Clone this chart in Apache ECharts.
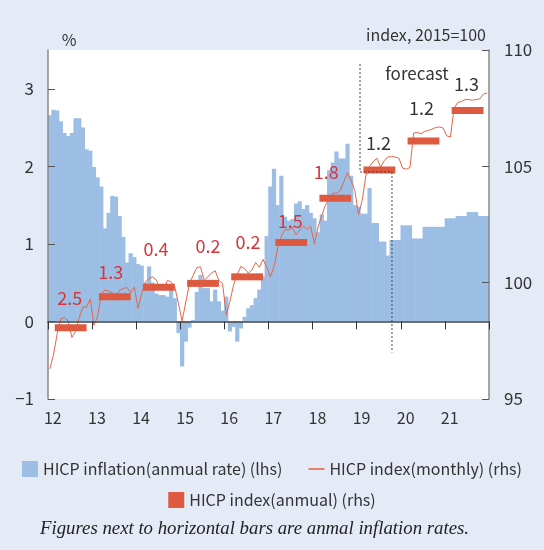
<!DOCTYPE html>
<html>
<head>
<meta charset="utf-8">
<script src="https://cdn.jsdelivr.net/npm/echarts@6/dist/echarts.min.js"></script>
<style>
  html, body { margin: 0; padding: 0; background: #e5ebf6; }
  #main { width: 544px; height: 550px; }
</style>
</head>
<body>
<div id="main"></div>
<script>
var FONT = '"Noto Sans CJK KR", "Noto Sans", sans-serif';

// years on the axis, one category per month
var years = ['12', '13', '14', '15', '16', '17', '18', '19', '20', '21'];

// HICP inflation, annual rate, monthly (lhs, %)
var inflation = [
    2.66, 2.73, 2.72, 2.58, 2.43, 2.39, 2.43, 2.62, 2.62, 2.5, 2.22, 2.2,
    1.99, 1.86, 1.74, 1.2, 1.4, 1.62, 1.61, 1.36, 1.09, 0.76, 0.88, 0.83,
    0.74, 0.72, 0.5, 0.71, 0.5, 0.36, 0.34, 0.34, 0.32, 0.41, 0.3, -0.15,
    -0.58, -0.26, -0.08, 0.02, 0.38, 0.6, 0.43, 0.43, 0.26, 0.41, 0.26, 0.14,
    0.32, -0.13, -0.07, -0.26, -0.09, 0.06, 0.17, 0.21, 0.3, 0.41, 0.58, 1.1,
    1.74, 1.97, 1.5, 1.88, 1.35, 1.3, 1.32, 1.52, 1.55, 1.45, 1.5, 1.4,
    1.33, 1.15, 1.38, 1.3, 1.95, 2.05, 2.19, 2.1, 2.1, 2.29, 1.88, 1.5,
    1.48, 1.39, 1.39, 1.72, 1.27, 1.27, 1.03, 1.03, 0.85, 1.05, 1.05, 1.05,
    1.24, 1.24, 1.24, 1.07, 1.07, 1.07, 1.22, 1.22, 1.22, 1.22, 1.22, 1.22,
    1.33, 1.33, 1.33, 1.36, 1.36, 1.36, 1.41, 1.41, 1.41, 1.36, 1.36, 1.36
];

// HICP index, monthly (rhs, 2015=100)
var indexMonthly = [
    96.3, 96.9, 97.8, 98.45, 98.5, 98.35, 97.65, 97.9, 98.5, 98.95, 98.95, 99.3,
    98.17, 98.53, 99.53, 99.68, 99.63, 99.56, 99.46, 99.68, 99.75, 99.79, 99.56, 99.82,
    98.89, 99.53, 100.03, 100.18, 100.25, 100.1, 99.75, 99.7, 100.1, 100.03, 99.82, 99.1,
    98.35, 99.17, 99.97, 100.32, 100.65, 100.68, 100.1, 100.25, 100.42, 100.51, 100.1, 99.97,
    98.6, 99.2, 99.9, 100.35, 100.7, 100.6, 100.41, 100.54, 100.87, 100.66, 101.0, 100.68,
    100.25, 100.68, 101.47, 102.0, 102.29, 102.26, 102.38, 102.05, 102.26, 102.43, 102.29, 102.41,
    101.65, 102.4, 102.9, 103.34, 103.6, 103.85, 103.85, 103.95, 104.34, 104.72, 104.38, 103.95,
    102.93, 103.55, 104.6, 105.0, 105.2, 105.35, 104.97, 105.25, 105.4, 105.42, 105.4, 105.35,
    104.92, 104.88, 104.95, 106.43, 106.46, 106.4, 106.5, 106.54, 106.6, 106.67, 106.69, 106.65,
    106.31, 106.26, 107.5, 107.75, 107.78, 107.87, 107.87, 107.84, 107.87, 107.9, 108.11, 108.15
];

// HICP index, annual (rhs) and annual inflation written next to the bars
var indexAnnual = [98.06, 99.4, 99.8, 99.97, 100.25, 101.73, 103.63, 104.84, 106.09, 107.4];
var annualRates = ['2.5', '1.3', '0.4', '0.2', '0.2', '1.5', '1.8', '1.2', '1.2', '1.3'];
var firstForecastYear = 7;

// forecast divider, in (month, index) units
var forecastMarker = [[84.9, 109.4], [84.9, 104.76], [93.6, 104.76], [93.6, 97.0]];

// layout of the annual labels relative to the bar centre (px)
var labelOffsets = [[-1, -30], [-4, -24], [-3, -38], [5, -37], [1, -35],
                    [-1, -21], [-9, -26], [-1, -27], [-2, -33], [-1, -26]];
var barStart = 1.85, barEnd = 10.5;

var months = [];
years.forEach(function (y) {
    for (var m = 1; m <= 12; m++) months.push(y + '/' + m);
});

var BLUE = '#9dbee4', RED = '#dd5a41', LINE = '#e2674a', LABEL_RED = '#d5343b';

function renderAnnual(params, api) {
    var i = api.value(0), v = api.value(1);
    var a = api.coord([i * 12 + barStart, v]);
    var b = api.coord([i * 12 + barEnd, v]);
    var off = labelOffsets[i];
    return {
        type: 'group',
        children: [{
            type: 'rect',
            shape: { x: a[0], y: a[1] - 3.5, width: b[0] - a[0], height: 7 },
            style: { fill: RED }
        }, {
            type: 'text',
            style: {
                text: annualRates[i],
                x: (a[0] + b[0]) / 2 + off[0],
                y: a[1] + off[1],
                align: 'center',
                verticalAlign: 'middle',
                fill: i >= firstForecastYear ? '#333' : LABEL_RED,
                fontSize: 18,
                fontFamily: FONT
            }
        }]
    };
}

var chart = echarts.init(document.getElementById('main'));
var option = {
    backgroundColor: '#e5ebf6',
    textStyle: { fontFamily: FONT },
    grid: {
        left: 48, right: 55, top: 50, bottom: 151,
        show: true, backgroundColor: '#fff', borderWidth: 0
    },
    legend: [{
        top: 456, left: 'center',
        itemWidth: 16, itemHeight: 16, itemGap: 26,
        textStyle: { fontSize: 16, color: '#333', fontFamily: FONT },
        data: [
            { name: 'HICP inflation(anmual rate) (lhs)', icon: 'rect' },
            { name: 'HICP index(monthly) (rhs)', icon: 'path://M0,0h12v1.2h-12z' }
        ]
    }, {
        top: 487, left: 'center',
        itemWidth: 16, itemHeight: 16,
        textStyle: { fontSize: 16, color: '#333', fontFamily: FONT },
        data: [{ name: 'HICP index(anmual) (rhs)', icon: 'rect' }]
    }],
    xAxis: [{
        type: 'category',
        data: months,
        position: 'bottom',
        axisLine: { show: false, onZero: false },
        axisTick: { show: false },
        axisLabel: {
            interval: 11, margin: 11, fontSize: 16, color: '#333',
            padding: [0, 0, 0, 6],
            formatter: function (v) { return v.split('/')[0]; }
        },
        splitLine: { show: false }
    }, {
        // month scale used for the zero line, year ticks and annual bars
        type: 'value', min: 0, max: 120, interval: 12,
        z: 10,
        axisLine: { show: true, onZero: true, onZeroAxisIndex: 0, lineStyle: { color: '#444', width: 1.5 } },
        axisTick: { show: true, inside: true, length: 8, lineStyle: { color: '#333' } },
        axisLabel: { show: false },
        splitLine: { show: false }
    }],
    yAxis: [{
        type: 'value', min: -1, max: 3.5, interval: 1,
        position: 'left', z: 10,
        axisLine: { show: true, onZero: false, lineStyle: { color: '#888', width: 1.5 } },
        axisTick: { show: true, inside: true, length: 7, lineStyle: { color: '#555' },
                    customValues: [-1, 0, 1, 2, 3] },
        axisLabel: {
            fontSize: 17, color: '#333', margin: 14,
            customValues: [-1, 0, 1, 2, 3],
            formatter: function (v) {
                if (v % 1 !== 0) return '';
                return v < 0 ? '\u2212' + Math.abs(v) : String(v);
            }
        },
        splitLine: { show: false }
    }, {
        type: 'value', min: 95, max: 110, interval: 5,
        position: 'right', z: 10,
        axisLine: { show: true, onZero: false, lineStyle: { color: '#888', width: 1.5 } },
        axisTick: { show: true, inside: true, length: 7, lineStyle: { color: '#555' } },
        axisLabel: { fontSize: 17, color: '#333', margin: 15 },
        splitLine: { show: false }
    }],
    graphic: [{
        type: 'text', x: 69, y: 40,
        style: { text: '%', align: 'center', verticalAlign: 'middle', fontSize: 16, fill: '#333', fontFamily: FONT }
    }, {
        type: 'text', x: 486, y: 35,
        style: { text: 'index, 2015=100', align: 'right', verticalAlign: 'middle', fontSize: 16, fill: '#333', fontFamily: FONT }
    }, {
        type: 'text', x: 417, y: 74, z: 20,
        style: { text: 'forecast', align: 'center', verticalAlign: 'middle', fontSize: 17, fill: '#333', fontFamily: FONT }
    }, {
        type: 'text', x: 40, y: 529,
        style: {
            text: 'Figures next to horizontal bars are anmal inflation rates.',
            align: 'left', verticalAlign: 'middle', fontSize: 18.8, fill: '#222',
            fontFamily: '"Liberation Serif", serif', fontStyle: 'italic'
        }
    }],
    series: [{
        name: 'HICP inflation(anmual rate) (lhs)',
        type: 'bar',
        xAxisIndex: 0, yAxisIndex: 0,
        data: inflation,
        barWidth: '115%',
        itemStyle: { color: BLUE },
        silent: true
    }, {
        name: 'HICP index(monthly) (rhs)',
        type: 'line',
        xAxisIndex: 0, yAxisIndex: 1,
        data: indexMonthly,
        symbol: 'none',
        lineStyle: { color: LINE, width: 1 },
        itemStyle: { color: LINE },
        z: 3
    }, {
        name: 'HICP index(anmual) (rhs)',
        type: 'custom',
        xAxisIndex: 1, yAxisIndex: 1,
        data: indexAnnual.map(function (v, i) { return [i, v]; }),
        renderItem: renderAnnual,
        itemStyle: { color: RED },
        z: 4
    }, {
        name: 'forecast marker',
        type: 'line',
        xAxisIndex: 1, yAxisIndex: 1,
        data: forecastMarker,
        symbol: 'none',
        lineStyle: { color: '#444', width: 1, type: [2, 2] },
        silent: true,
        z: 5
    }]
};
chart.setOption(option);
</script>
</body>
</html>
